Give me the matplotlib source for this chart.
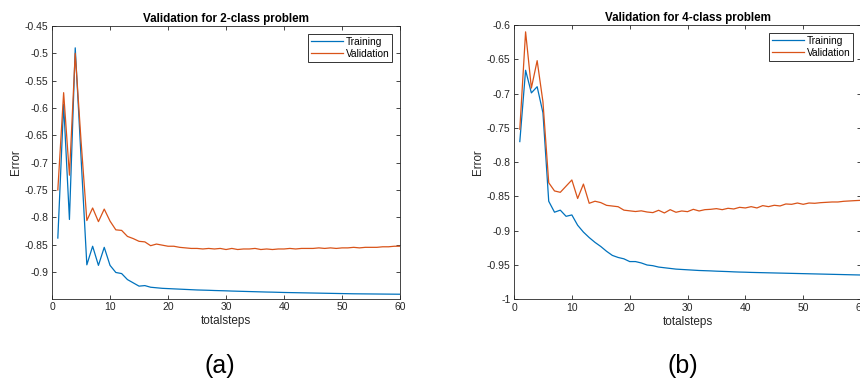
import numpy as np
from matplotlib import pyplot as plt
from matplotlib.ticker import FuncFormatter

plt.rcParams['font.family'] = ['Liberation Sans', 'DejaVu Sans']

# ── Data ───────────────────────────────────────────────────────────────────
steps = list(range(1, 61))

train_2class = [
    -0.838, -0.593, -0.804, -0.490, -0.690, -0.887, -0.853, -0.888, -0.855, -0.888,
    -0.901, -0.903, -0.914, -0.920, -0.926, -0.925, -0.928, -0.929, -0.930, -0.9305,
    -0.931, -0.9315, -0.932, -0.9325, -0.933, -0.9333, -0.9336, -0.934, -0.9343, -0.9346,
    -0.935, -0.9353, -0.9356, -0.9359, -0.9362, -0.9365, -0.9368, -0.937, -0.9373, -0.9376,
    -0.9378, -0.938, -0.9382, -0.9384, -0.9386, -0.9388, -0.939, -0.9392, -0.9394, -0.9396,
    -0.9398, -0.940, -0.9401, -0.9402, -0.9403, -0.9404, -0.9405, -0.9406, -0.9407, -0.9408,
]
valid_2class = [
    -0.750, -0.572, -0.723, -0.500, -0.660, -0.806, -0.783, -0.808, -0.785, -0.807,
    -0.823, -0.824, -0.835, -0.839, -0.844, -0.845, -0.852, -0.849, -0.851, -0.853,
    -0.853, -0.855, -0.856, -0.857, -0.857, -0.858, -0.857, -0.858, -0.857, -0.859,
    -0.857, -0.859, -0.858, -0.858, -0.857, -0.859, -0.858, -0.859, -0.858, -0.858,
    -0.857, -0.858, -0.857, -0.857, -0.857, -0.856, -0.857, -0.856, -0.857, -0.856,
    -0.856, -0.855, -0.856, -0.855, -0.855, -0.855, -0.854, -0.854, -0.853, -0.853,
]

train_4class = [
    -0.770, -0.666, -0.699, -0.690, -0.728, -0.857, -0.873, -0.870, -0.879, -0.877,
    -0.892, -0.902, -0.910, -0.917, -0.923, -0.930, -0.936, -0.939, -0.941, -0.945,
    -0.945, -0.947, -0.950, -0.951, -0.953, -0.954, -0.955, -0.956, -0.9565, -0.957,
    -0.9575, -0.958, -0.9583, -0.9586, -0.959, -0.9593, -0.9596, -0.960, -0.9603, -0.9605,
    -0.9608, -0.961, -0.9612, -0.9614, -0.9616, -0.9618, -0.962, -0.9622, -0.9624, -0.9626,
    -0.9628, -0.963, -0.9632, -0.9634, -0.9636, -0.9638, -0.964, -0.9642, -0.9644, -0.9646,
]
valid_4class = [
    -0.752, -0.610, -0.692, -0.652, -0.712, -0.830, -0.842, -0.844, -0.835, -0.826,
    -0.853, -0.832, -0.860, -0.857, -0.859, -0.863, -0.864, -0.865, -0.870, -0.871,
    -0.872, -0.871, -0.8727, -0.8736, -0.8702, -0.8741, -0.8693, -0.8731, -0.8712, -0.8722,
    -0.8688, -0.8712, -0.8693, -0.8688, -0.8678, -0.8693, -0.8673, -0.8683, -0.8659, -0.8668,
    -0.8649, -0.8668, -0.8634, -0.8649, -0.8629, -0.8639, -0.8610, -0.8615, -0.8596, -0.8615,
    -0.8596, -0.8600, -0.8591, -0.8586, -0.8581, -0.8581, -0.8571, -0.8566, -0.8561, -0.8557,
]

titles = ['Validation for 2-class problem', 'Validation for 4-class problem']
panel_tags = ['(a)', '(b)']
y_limits = [(-0.9495, -0.45), (-1.0, -0.6)]
y_steps = [0.05, 0.05]

# MATLAB default colours
c_train = '#0072BD'
c_valid = '#D95319'
axis_col = '#262626'

fig = plt.figure(figsize=(8.6, 3.8), dpi=100)
ax_a = fig.add_axes([0.0605, 0.2132, 0.4047, 0.7184])
ax_b = fig.add_axes([0.5977, 0.2124, 0.4035, 0.7218])

series = [(train_2class, valid_2class), (train_4class, valid_4class)]

fmt = FuncFormatter(lambda v, p: ('%g' % round(v, 4)))

for ax, (tr, va), title, ylim, ystep in zip(
        [ax_a, ax_b], series, titles, y_limits, y_steps):
    ax.plot(steps, tr, color=c_train, linewidth=0.9, label='Training')
    ax.plot(steps, va, color=c_valid, linewidth=0.9, label='Validation')

    ax.set_xlim(0, 60)
    ax.set_ylim(*ylim)
    ax.set_xticks(np.arange(0, 61, 10))
    yt = np.arange(-1.0, -0.4 + 1e-9, ystep)
    yt = [t for t in yt if ylim[0] - 1e-9 <= t <= ylim[1] + 1e-9]
    ax.set_yticks(yt)
    ax.yaxis.set_major_formatter(fmt)

    ax.tick_params(direction='in', length=3, width=0.6, top=True, right=True,
                   labelsize=7.5, colors=axis_col, pad=2.5)
    for sp in ax.spines.values():
        sp.set_color(axis_col)
        sp.set_linewidth(0.6)

    ax.set_title(title, fontsize=8.4, fontweight='bold', pad=3)
    ax.set_xlabel('totalsteps', fontsize=8.5, color=axis_col, labelpad=2)
    ax.set_ylabel('Error', fontsize=8.3, color=axis_col, labelpad=2)

    leg = ax.legend(loc='upper right', fontsize=7.3, frameon=True, fancybox=False,
                    handlelength=3.1, handletextpad=0.3, borderpad=0.3,
                    labelspacing=0.2, borderaxespad=0.75)
    leg.get_frame().set_edgecolor('black')
    leg.get_frame().set_linewidth(0.7)

fig.text(0.2558, 0.037, panel_tags[0], fontsize=18, ha='center', va='center')
fig.text(0.794, 0.037, panel_tags[1], fontsize=18, ha='center', va='center')

fig.savefig('out.png', dpi=100)
